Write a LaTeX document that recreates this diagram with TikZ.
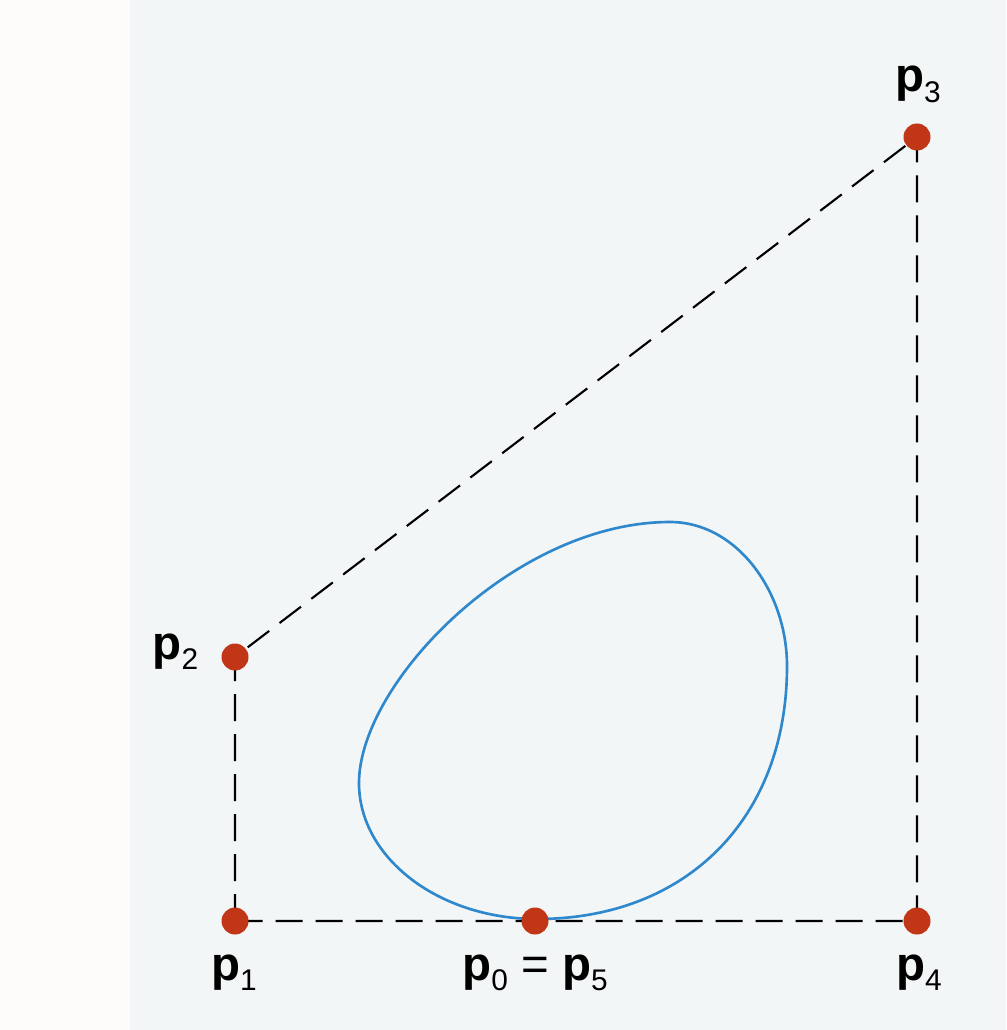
\documentclass[tikz,border=0pt]{standalone}
\usepackage{fontspec}
\setmainfont{Liberation Sans}
\usepackage{tikz}
\usetikzlibrary{positioning}
\definecolor{pagegray}{RGB}{243,246,247}
\definecolor{pagewhite}{RGB}{253,252,251}
\definecolor{ptred}{RGB}{192,54,22}
\definecolor{curveblue}{RGB}{48,136,204}
\newcommand\ptname[1]{\textbf{p}\raisebox{-3pt}{\fontsize{8.5}{9}\selectfont #1}}
\tikzset{
  ctrlpt/.style={circle, fill=ptred, inner sep=0pt, minimum size=2.7mm},
  ptlabel/.style={font=\fontsize{13.5}{16}\selectfont, inner sep=0pt},
  polyline/.style={line width=0.6pt, dash pattern=on 2.7mm off 1.3mm},
  curveline/.style={line width=0.75pt, draw=curveblue},
}

\begin{document}
\begin{tikzpicture}[x=0.1mm, y=-0.1mm]
  \useasboundingbox (0,0) rectangle (1006,1030);
  \fill[pagewhite] (0,0) rectangle (130,1030);
  \fill[pagegray] (130,0) rectangle (1006,1030);
  \coordinate (p0) at (535,921);
  \coordinate (p1) at (235,921);
  \coordinate (p2) at (235,657);
  \coordinate (p3) at (917,137);
  \coordinate (p4) at (917,921);
  \draw[polyline] (p1) -- (p2) -- (p3) -- (p4) -- (p1);
  \draw[curveline] (537,919) .. controls (439,919) and (359,858) .. (359,783)
    .. controls (359,683) and (515,522) .. (670,522)
    .. controls (737,522) and (787,592) .. (787,666)
    .. controls (787,818) and (687,919) .. (537,919) -- cycle;
  \foreach \p in {0,...,4}
    \node[ctrlpt] (dot\p) at (p\p) {};
  \node[ptlabel, anchor=base] (lab3) at (918,92) {\ptname{3}};
  \node[ptlabel, anchor=base east] (lab2) at (199,659) {\ptname{2}};
  \node[ptlabel, anchor=base] (lab1) at (234,980) {\ptname{1}};
  \node[ptlabel, anchor=base] (lab0) at (535,980) {\ptname{0} = \ptname{5}};
  \node[ptlabel, anchor=base] (lab4) at (919,980) {\ptname{4}};
\end{tikzpicture}
\end{document}
